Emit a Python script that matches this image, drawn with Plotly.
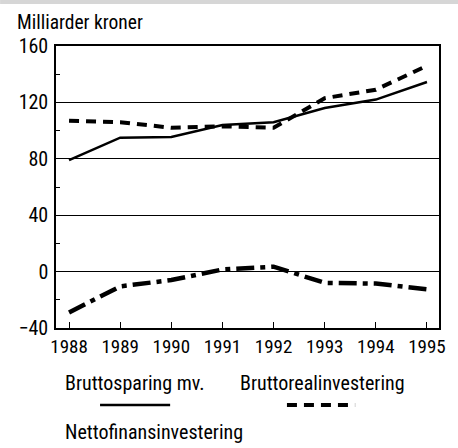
import plotly.graph_objects as go

# Data (Milliarder kroner)
years = [1988, 1989, 1990, 1991, 1992, 1993, 1994, 1995]
bruttosparing = [79, 95, 95.5, 104, 106, 116, 122, 134.5]
bruttorealinvestering = [107, 106, 102, 103, 102, 123, 129, 146]
nettofinansinvestering = [-29, -10.5, -6, 1.5, 3.5, -8, -8.5, -12.5]

FONT = "Roboto Condensed, Liberation Sans Narrow, Arial Narrow, sans-serif"

fig = go.Figure()

fig.add_trace(go.Scatter(
    x=years, y=bruttosparing, mode="lines", name="Bruttosparing mv.",
    line=dict(color="black", width=2.5),
))
fig.add_trace(go.Scatter(
    x=years, y=bruttorealinvestering, mode="lines", name="Bruttorealinvestering",
    line=dict(color="black", width=4, dash="10px,7px"),
))
fig.add_trace(go.Scatter(
    x=years, y=nettofinansinvestering, mode="lines", name="Nettofinansinvestering",
    line=dict(color="black", width=4.5, dash="18px,6px,5px,6px"),
))

fig.update_layout(
    width=458, height=448,
    margin=dict(l=56, r=19, t=46, b=120),
    paper_bgcolor="white", plot_bgcolor="white",
    showlegend=False,
    font=dict(family=FONT, size=20, color="black"),
)

fig.update_xaxes(
    range=[1987.745, 1995.235], tickmode="array", tickvals=years,
    ticks="inside", ticklen=6, tickcolor="black", tickwidth=1,
    showgrid=False, zeroline=False, automargin=False,
    showline=True, linecolor="black", linewidth=1.5, mirror=True,
    tickfont=dict(size=19),
)
fig.update_yaxes(
    range=[-40, 160], tickmode="array", tickvals=[-40, 0, 40, 80, 120, 160],
    ticks="inside", ticklen=4, tickcolor="black", tickwidth=1,
    minor=dict(tickmode="array", tickvals=[-20, 20, 60, 100, 140],
               ticks="inside", ticklen=4, tickcolor="black", showgrid=False),
    showgrid=True, gridcolor="black", gridwidth=1,
    zeroline=False, automargin=False,
    showline=True, linecolor="black", linewidth=1.5, mirror=True,
    ticklabelstandoff=2,
    tickfont=dict(size=20),
)

# Unit label
fig.add_annotation(text="Milliarder kroner", xref="paper", yref="paper",
                   x=-0.107, y=1.082, xanchor="left", yanchor="middle",
                   showarrow=False, font=dict(size=19.5))

# Faint band at the top of the page
fig.add_shape(type="rect", xref="paper", yref="paper",
              x0=-0.146, x1=1.05, y0=1.149, y1=1.17,
              fillcolor="#d6d6d6", line=dict(width=0), layer="below")

# Manual legend
fig.add_annotation(text="Bruttosparing mv.", xref="paper", yref="paper",
                   x=0.018, y=-0.195, xanchor="left", yanchor="middle",
                   showarrow=False, font=dict(size=20))
fig.add_annotation(text="Bruttorealinvestering", xref="paper", yref="paper",
                   x=0.475, y=-0.195, xanchor="left", yanchor="middle",
                   showarrow=False, font=dict(size=20))
fig.add_annotation(text="Nettofinansinvestering", xref="paper", yref="paper",
                   x=0.018, y=-0.369, xanchor="left", yanchor="middle",
                   showarrow=False, font=dict(size=20))
fig.add_shape(type="line", xref="paper", yref="paper",
              x0=0.115, x1=0.298, y0=-0.273, y1=-0.273,
              line=dict(color="black", width=2.5))
fig.add_shape(type="line", xref="paper", yref="paper",
              x0=0.603, x1=0.781, y0=-0.273, y1=-0.273,
              line=dict(color="black", width=4, dash="10px,7px"))

# page body margin would shift the figure by 8px; drop it
fig.write_html("out.html", config={"displayModeBar": False},
               post_script="document.body.style.margin='0';document.body.style.overflow='hidden';")
